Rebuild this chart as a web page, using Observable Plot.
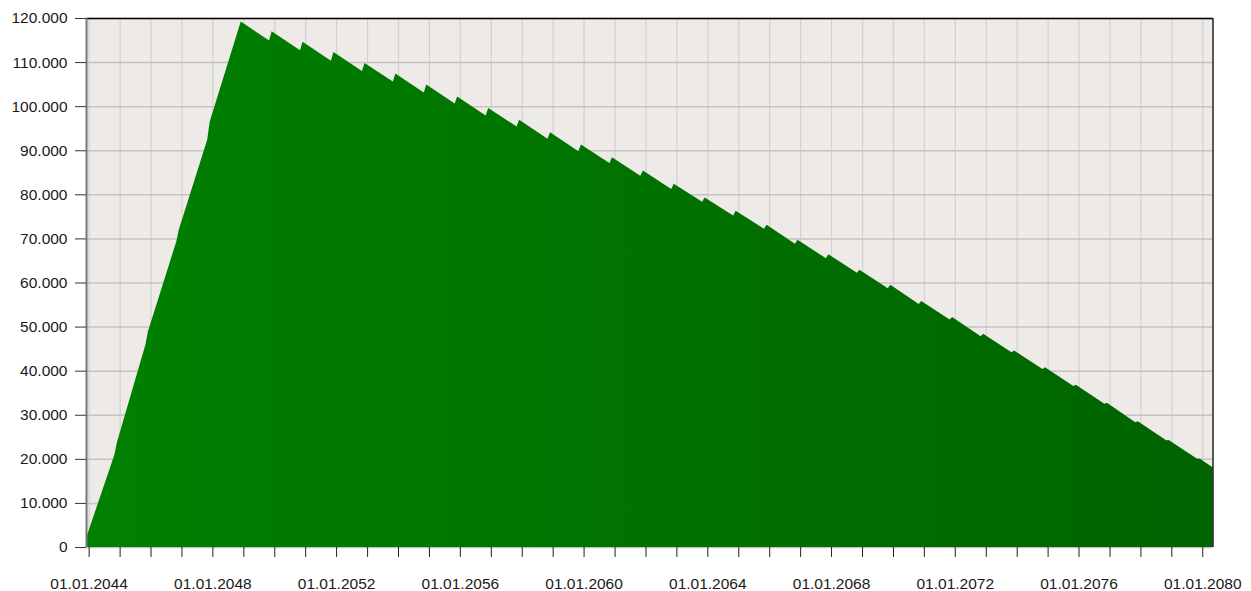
<!DOCTYPE html>
<html><head><meta charset="utf-8">
<script src="https://cdn.jsdelivr.net/npm/d3@7"></script>
<script src="https://cdn.jsdelivr.net/npm/@observablehq/plot@0.6"></script>
<style>
html,body{margin:0;padding:0;background:#fff;}
#chart svg{display:block;}
</style>
</head><body><div id="chart"></div>
<script>
// Vertices of the balance curve (date, value)
const dates = [
  "2043-12-01","2044-11-01","2044-12-01","2045-11-01","2045-12-01",
  "2046-11-01","2046-12-01","2047-11-01","2047-12-01",
  "2048-12-01","2049-11-01","2049-12-01","2050-11-01","2050-12-01","2051-11-01",
  "2051-12-01","2052-11-01","2052-12-01","2053-11-01","2053-12-01","2054-11-01",
  "2054-12-01","2055-11-01","2055-12-01","2056-11-01","2056-12-01","2057-11-01",
  "2057-12-01","2058-11-01","2058-12-01","2059-11-01","2059-12-01","2060-11-01",
  "2060-12-01","2061-11-01","2061-12-01","2062-11-01","2062-12-01","2063-11-01",
  "2063-12-01","2064-11-01","2064-12-01","2065-11-01","2065-12-01","2066-11-01",
  "2066-12-01","2067-11-01","2067-12-01","2068-11-01","2068-12-01","2069-11-01",
  "2069-12-01","2070-11-01","2070-12-01","2071-11-01","2071-12-01","2072-11-01",
  "2072-12-01","2073-11-01","2073-12-01","2074-11-01","2074-12-01","2075-11-01",
  "2075-12-01","2076-11-01","2076-12-01","2077-11-01","2077-12-01","2078-11-01",
  "2078-12-01","2079-11-01","2079-12-01","2080-05-01"
];
const values = [
  2000, 21000, 23800, 45900, 48900,
  69300, 72000, 92400, 96500,
  119200, 114900, 117000, 112700, 114600, 110300,
  112300, 108000, 109800, 105600, 107400, 103100,
  104900, 100600, 102200, 97900, 99600, 95400,
  96900, 92600, 94100, 89800, 91300, 87100,
  88400, 84200, 85400, 81200, 82400, 78300,
  79300, 75200, 76300, 72200, 73100, 68800,
  69700, 65500, 66400, 62200, 62900, 58700,
  59500, 55100, 55800, 51600, 52200, 47800,
  48400, 44200, 44600, 40400, 40800, 36500,
  36800, 32500, 32700, 28300, 28500, 24200,
  24300, 20000, 20100, 18100
];
const yTicks = [0,10000,20000,30000,40000,50000,60000,70000,80000,90000,100000,110000,120000];
const xLabelYears = [2044,2048,2052,2056,2060,2064,2068,2072,2076,2080];

const data = dates.map((d, i) => ({date: new Date(d + "T00:00:00Z"), value: values[i]}));
const x0 = data[0].date, x1 = data[data.length - 1].date;
const yearTicks = d3.utcYear.range(d3.utcYear.ceil(x0), x1);

const de = d3.formatLocale({decimal: ",", thousands: ".", grouping: [3], currency: ["", " €"]});
const fmtY = de.format(",d");
const fmtX = d3.utcFormat("%d.%m.%Y");

const FONT = "'Liberation Sans', Arial, Helvetica, sans-serif";

const svg = Plot.plot({
  width: 1251,
  height: 591,
  marginLeft: 86,
  marginRight: 38.5,
  marginTop: 18,
  marginBottom: 44,
  style: {fontFamily: FONT, fontSize: "15.5px", color: "#1a1a1a", background: "#fff"},
  x: {type: "utc", domain: [x0, x1], label: null},
  y: {domain: [0, 120000], label: null},
  marks: [
    Plot.frame({fill: "#EDEAE8", stroke: "none"}),
    Plot.gridX(yearTicks, {stroke: "#D3D0CE", strokeOpacity: 1, strokeWidth: 1.2}),
    Plot.gridY(yTicks, {stroke: "#C4C3C2", strokeOpacity: 1, strokeWidth: 1.5}),
    Plot.areaY(data, {x: "date", y: "value", fill: "url(#balGrad)", curve: "linear"}),
    Plot.ruleY([120000], {stroke: "#000", strokeWidth: 1.3}),
    Plot.ruleX([x1], {stroke: "#000", strokeWidth: 1.3}),
    Plot.ruleX([x0], {stroke: "#777", strokeWidth: 2}),
    Plot.axisY(yTicks, {tickSize: 11, tickPadding: 8, tickFormat: fmtY, fontSize: 15.5, stroke: "#333"}),
    Plot.axisX(yearTicks, {
      tickSize: 10, tickPadding: 20, fontSize: 15.5, stroke: "#222",
      tickFormat: d => xLabelYears.includes(d.getUTCFullYear()) ? fmtX(d) : ""
    })
  ]
});

const defs = d3.select(svg).insert("defs", ":first-child");
const grad = defs.append("linearGradient").attr("id", "balGrad")
  .attr("x1", "0").attr("x2", "1").attr("y1", "0").attr("y2", "0");
grad.append("stop").attr("offset", "0").attr("stop-color", "#008000");
grad.append("stop").attr("offset", "1").attr("stop-color", "#006400");

document.getElementById("chart").appendChild(svg);
</script>
</body></html>
